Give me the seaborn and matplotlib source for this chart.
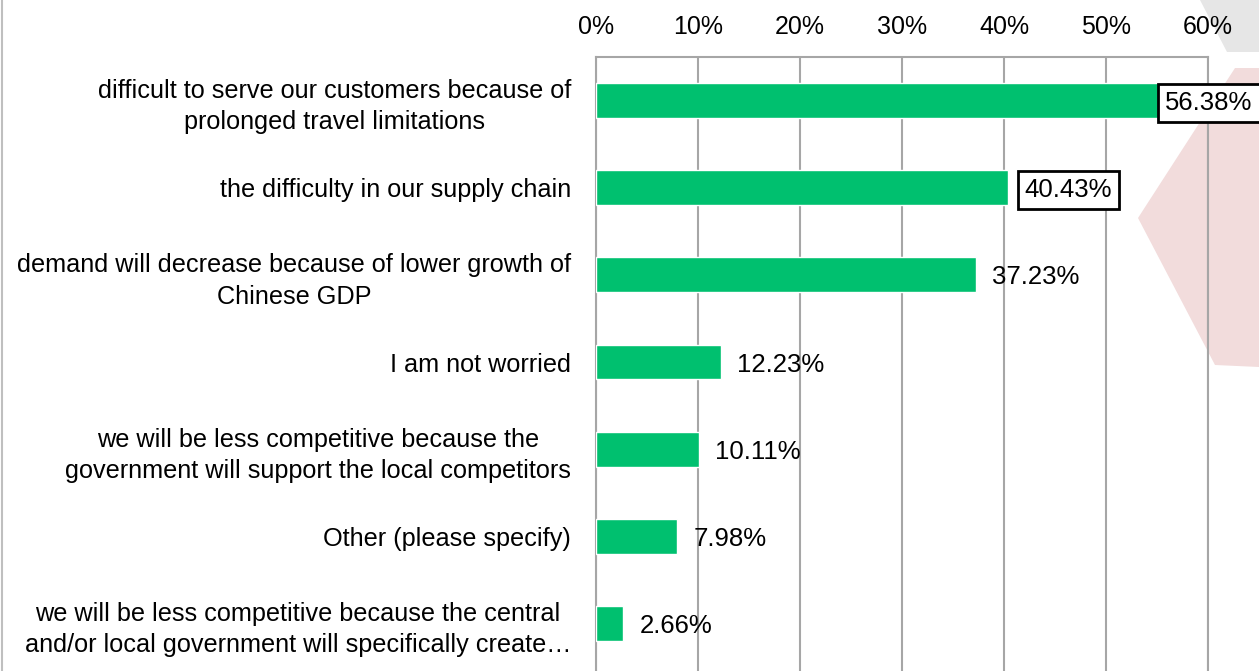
import matplotlib
matplotlib.use("Agg")
import matplotlib.pyplot as plt
from matplotlib.patches import Polygon
from matplotlib.lines import Line2D
import seaborn as sns
import pandas as pd

categories = [
    "difficult to serve our customers because of\nprolonged travel limitations",
    "the difficulty in our supply chain",
    "demand will decrease because of lower growth of\nChinese GDP",
    "I am not worried",
    "we will be less competitive because the\ngovernment will support the local competitors",
    "Other (please specify)",
    "we will be less competitive because the central\nand/or local government will specifically create\u2026",
]
values = [56.38, 40.43, 37.23, 12.23, 10.11, 7.98, 2.66]
tick_values = [0, 10, 20, 30, 40, 50, 60]
tick_labels = ["0%", "10%", "20%", "30%", "40%", "50%", "60%"]
boxed = [True, True, False, False, False, False, False]

sns.set_theme(style="white")
plt.rcParams['font.family'] = ['Liberation Sans', 'DejaVu Sans']

W, H = 1259, 671
fig = plt.figure(figsize=(W / 100, H / 100), dpi=100)

# background shapes (figure pixel coords)
def px(pts):
    return [(x / W, 1 - y / H) for x, y in pts]

fig.patches.append(Polygon(px([(1138, 218), (1200, 122), (1235, 68), (1259, 68), (1259, 367), (1215, 365)]),
                           closed=True, transform=fig.transFigure, facecolor="#F2DCDC", edgecolor="none", zorder=-10))
fig.patches.append(Polygon(px([(1200, 0), (1227, 52), (1259, 52), (1259, 0)]),
                           closed=True, transform=fig.transFigure, facecolor="#E6E6E6", edgecolor="none", zorder=-10))
fig.lines.append(Line2D([1.5 / W, 1.5 / W], [0, 1], transform=fig.transFigure, color="#BFBFBF", lw=1.5, zorder=-10))

left, right = 596 / W, 1208 / W
top, bottom = 1 - 57 / H, 1 - 671 / H
ax = fig.add_axes([left, bottom, right - left, top - bottom])
ax.set_zorder(1)
ax.patch.set_alpha(0)

df = pd.DataFrame({"cat": categories, "val": values})
sns.barplot(data=df, x="val", y="cat", orient="h", color="#00C06F", width=0.4,
            saturation=1, ax=ax, zorder=3)

ax.set_xlim(0, 60)
ax.set_ylim(6.5 + 4 / 88, -0.5)
ax.set_xlabel("")
ax.set_ylabel("")
ax.xaxis.tick_top()
ax.set_xticks(tick_values)
ax.set_xticklabels(tick_labels, fontsize=18, color="#000000")
ax.tick_params(axis="x", length=0, pad=13)
ax.tick_params(axis="y", length=0, pad=18)
for lab in ax.get_yticklabels():
    lab.set_fontsize(18.2)
    lab.set_color("#000000")
    lab.set_linespacing(1.38)
    lab.set_horizontalalignment("right")
    lab.set_multialignment("center")

ax.grid(axis="x", color="#A6A6A6", lw=1.5, zorder=1)
ax.grid(axis="y", visible=False)
for s in ["top", "left", "right"]:
    ax.spines[s].set_visible(True)
    ax.spines[s].set_color("#A6A6A6")
    ax.spines[s].set_linewidth(1.5)
ax.spines["bottom"].set_visible(False)

for i, (v, b) in enumerate(zip(values, boxed)):
    x = min(v + 1.6, 55.8)
    kw = dict(fontsize=18.5, color="#000000", va="center_baseline", ha="left",
              zorder=5, clip_on=False)
    if b:
        kw["bbox"] = dict(boxstyle="square,pad=0.28", facecolor="white", edgecolor="black", linewidth=2)
    ax.text(x, i, f"{v:.2f}%", **kw)

fig.savefig("out.png", dpi=100)
